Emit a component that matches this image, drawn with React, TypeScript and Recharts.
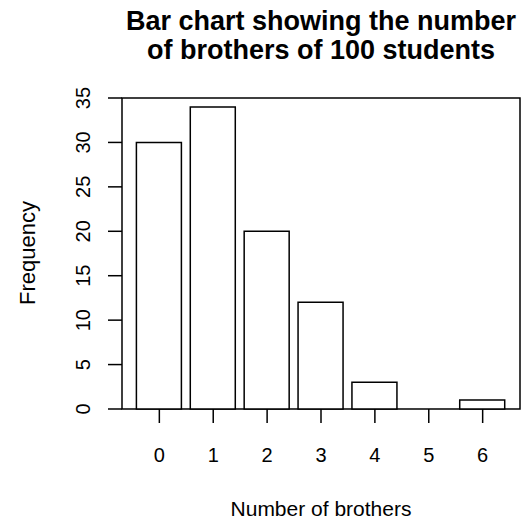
import { Bar, BarChart, ReferenceArea, XAxis, YAxis } from 'recharts'

const brothers = [0, 1, 2, 3, 4, 5, 6]
const students = [30, 34, 20, 12, 3, 0, 1]
const yTicks = [0, 5, 10, 15, 20, 25, 30, 35]

const data = brothers.map((b, i) => ({ brothers: b, frequency: students[i] }))

const FONT = '"Liberation Sans", Arial, Helvetica, sans-serif'
const X_DOMAIN: [number, number] = [-0.693, 6.693]

function XTick({ x, payload }: any) {
  return (
    <text x={x} y={462} textAnchor="middle" fontSize={20} fontFamily={FONT} fill="#000">
      {payload.value}
    </text>
  )
}

function YTick({ y, payload }: any) {
  return (
    <text
      transform={`translate(90, ${y}) rotate(-90)`}
      textAnchor="middle"
      fontSize={20}
      fontFamily={FONT}
      fill="#000"
    >
      {payload.value}
    </text>
  )
}

export default function App() {
  return (
    <div style={{ position: 'absolute', left: 0, top: 0, width: 523, height: 520, background: '#fff', fontFamily: FONT }}>
      <div
        style={{
          position: 'absolute',
          left: 100,
          width: 442,
          top: 7,
          textAlign: 'center',
          fontWeight: 'bold',
          fontSize: 27,
          lineHeight: '29px'
        }}
      >
        Bar chart showing the number
        <br />
        of brothers of 100 students
      </div>
      <BarChart
        width={523}
        height={520}
        data={data}
        margin={{ top: 98, right: 3, left: 62, bottom: 51 }}
      >
        <XAxis
          type="number"
          dataKey="brothers"
          domain={X_DOMAIN}
          ticks={brothers}
          allowDataOverflow
          height={60}
          tickSize={14}
          axisLine={false}
          tickLine={{ stroke: '#000', strokeWidth: 1.5 }}
          tick={<XTick />}
        />
        <YAxis
          type="number"
          domain={[0, 35]}
          ticks={yTicks}
          width={60}
          tickSize={14}
          axisLine={false}
          tickLine={{ stroke: '#000', strokeWidth: 1.5 }}
          tick={<YTick />}
        />
        <ReferenceArea
          x1={X_DOMAIN[0]}
          x2={X_DOMAIN[1]}
          y1={0}
          y2={35}
          fill="none"
          fillOpacity={0}
          stroke="#000"
          strokeWidth={1.5}
          ifOverflow="visible"
        />
        <Bar
          dataKey="frequency"
          barSize={45}
          fill="#fff"
          stroke="#000"
          strokeWidth={1.5}
          isAnimationActive={false}
        />
      </BarChart>
      <div
        style={{
          position: 'absolute',
          left: 122,
          width: 398,
          top: 500,
          textAlign: 'center',
          fontSize: 21,
          lineHeight: '18px'
        }}
      >
        Number of brothers
      </div>
      <div
        style={{
          position: 'absolute',
          left: 28,
          top: 253,
          transform: 'translate(-50%, -50%) rotate(-90deg)',
          fontSize: 22,
          lineHeight: '24px',
          whiteSpace: 'nowrap'
        }}
      >
        Frequency
      </div>
    </div>
  )
}
